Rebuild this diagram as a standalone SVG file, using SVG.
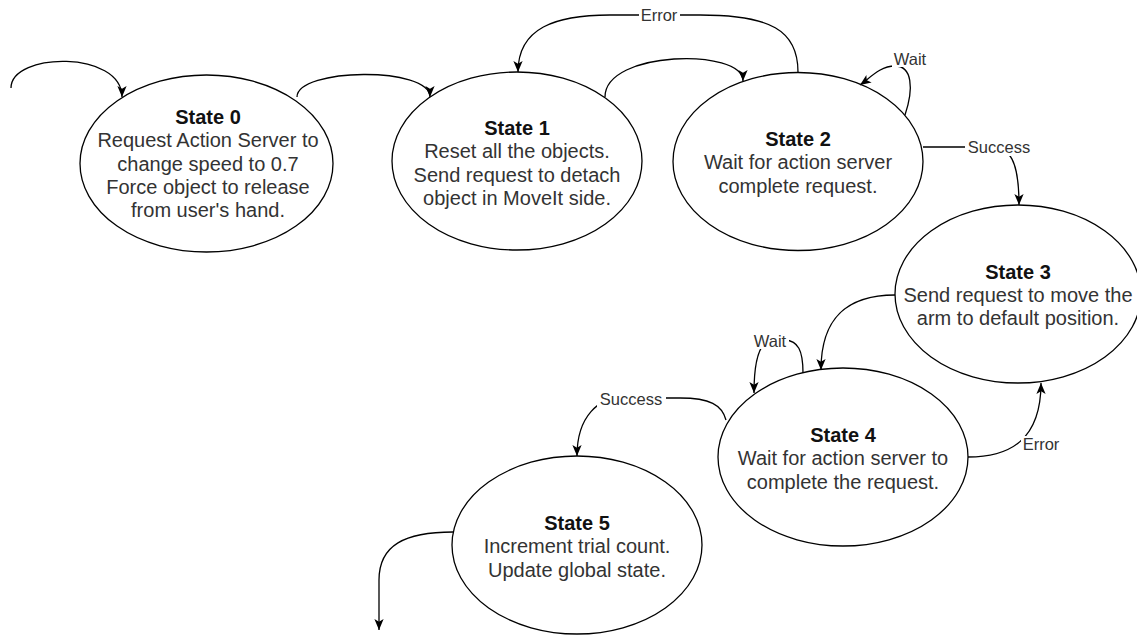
<svg xmlns="http://www.w3.org/2000/svg" width="1137" height="637" viewBox="0 0 1137 637">
<style>
.st{fill:#fff;stroke:#000;stroke-width:1.3}
.t{font-family:"Liberation Sans",Arial,sans-serif;font-size:20px;fill:#333;text-anchor:middle}
.t .b{font-weight:bold;fill:#111}
.e{fill:none;stroke:#000;stroke-width:1.3}
.lb{fill:#fff}
.lt{font-family:"Liberation Sans",Arial,sans-serif;font-size:16.5px;fill:#333;text-anchor:middle}
</style>
<defs>
<marker id="arr" viewBox="0 0 10 10" refX="10" refY="5" markerWidth="11" markerHeight="11" markerUnits="userSpaceOnUse" orient="auto">
<path d="M0,0.8 L10,5 L0,9.2 L2.5,5 z" fill="#000"/>
</marker>
</defs>
<rect width="1137" height="637" fill="#fff"/>
<g id="state0">
<ellipse class="st" cx="206.5" cy="163.5" rx="126.5" ry="88.5"/>
<text class="t"><tspan class="b" x="208" y="124">State 0</tspan><tspan x="208" y="147.3">Request Action Server to</tspan><tspan x="208" y="170.6">change speed to 0.7</tspan><tspan x="208" y="193.9">Force object to release</tspan><tspan x="208" y="217.2">from user's hand.</tspan></text>
</g>
<g id="state1">
<ellipse class="st" cx="517" cy="161" rx="125" ry="89"/>
<text class="t"><tspan class="b" x="517" y="135">State 1</tspan><tspan x="517" y="158.3">Reset all the objects.</tspan><tspan x="517" y="181.6">Send request to detach</tspan><tspan x="517" y="204.9">object in MoveIt side.</tspan></text>
</g>
<g id="state2">
<ellipse class="st" cx="798" cy="161.5" rx="125" ry="89"/>
<text class="t"><tspan class="b" x="798" y="146">State 2</tspan><tspan x="798" y="169.3">Wait for action server</tspan><tspan x="798" y="192.6">complete request.</tspan></text>
</g>
<g id="state3">
<ellipse class="st" cx="1018" cy="294" rx="123" ry="89"/>
<text class="t"><tspan class="b" x="1018" y="278.5">State 3</tspan><tspan x="1018" y="301.8">Send request to move the</tspan><tspan x="1018" y="325.1">arm to default position.</tspan></text>
</g>
<g id="state4">
<ellipse class="st" cx="843" cy="457" rx="125" ry="89"/>
<text class="t"><tspan class="b" x="843" y="442">State 4</tspan><tspan x="843" y="465.3">Wait for action server to</tspan><tspan x="843" y="488.6">complete the request.</tspan></text>
</g>
<g id="state5">
<ellipse class="st" cx="577" cy="545" rx="125" ry="89"/>
<text class="t"><tspan class="b" x="577" y="530">State 5</tspan><tspan x="577" y="553.3">Increment trial count.</tspan><tspan x="577" y="576.6">Update global state.</tspan></text>
</g>
<g id="connectors">
<path class="e" marker-end="url(#arr)" d="M11,88 C11,52 122,50 122,97"/>
<path class="e" marker-end="url(#arr)" d="M297,97 C297,68 430,66 430,97"/>
<path class="e" marker-end="url(#arr)" d="M605,97 C605,50 743,48 743,81"/>
<path class="e" marker-end="url(#arr)" d="M798,72 C798,30 770,15 700,15 L610,15 C555,15 518,28 518,72"/>
<path class="e" marker-end="url(#arr)" d="M905,115 C914,88 912,66 895,66 C880,66 870,78 860,85"/>
<path class="e" marker-end="url(#arr)" d="M923,147 L990,147 C1010,147 1019,160 1019,205"/>
<path class="e" marker-end="url(#arr)" d="M895,295 C850,295 821,315 821,370"/>
<path class="e" marker-end="url(#arr)" d="M803,373 C803,350 798,341 785,340 L770,340 C760,343 754,360 754,393"/>
<path class="e" marker-end="url(#arr)" d="M968,457 C1010,457 1041,440 1041,383"/>
<path class="e" marker-end="url(#arr)" d="M726,420 C722,405 710,398 680,398 L620,398 C600,398 577,415 577,456"/>
<path class="e" marker-end="url(#arr)" d="M453,532 C405,532 379,545 379,580 L379,630"/>
<g id="labels">
<rect class="lb" x="639" y="7" width="41" height="17"/>
<text class="lt" x="659" y="21">Error</text>
<rect class="lb" x="892" y="51" width="37" height="16"/>
<text class="lt" x="910" y="65">Wait</text>
<rect class="lb" x="965" y="139" width="69" height="17"/>
<text class="lt" x="999" y="153">Success</text>
<rect class="lb" x="1021" y="436" width="41" height="17"/>
<text class="lt" x="1041" y="450">Error</text>
<rect class="lb" x="752" y="333" width="37" height="16"/>
<text class="lt" x="770" y="347">Wait</text>
<rect class="lb" x="597" y="391" width="69" height="17"/>
<text class="lt" x="631" y="405">Success</text>
</g>
</g>
</svg>
